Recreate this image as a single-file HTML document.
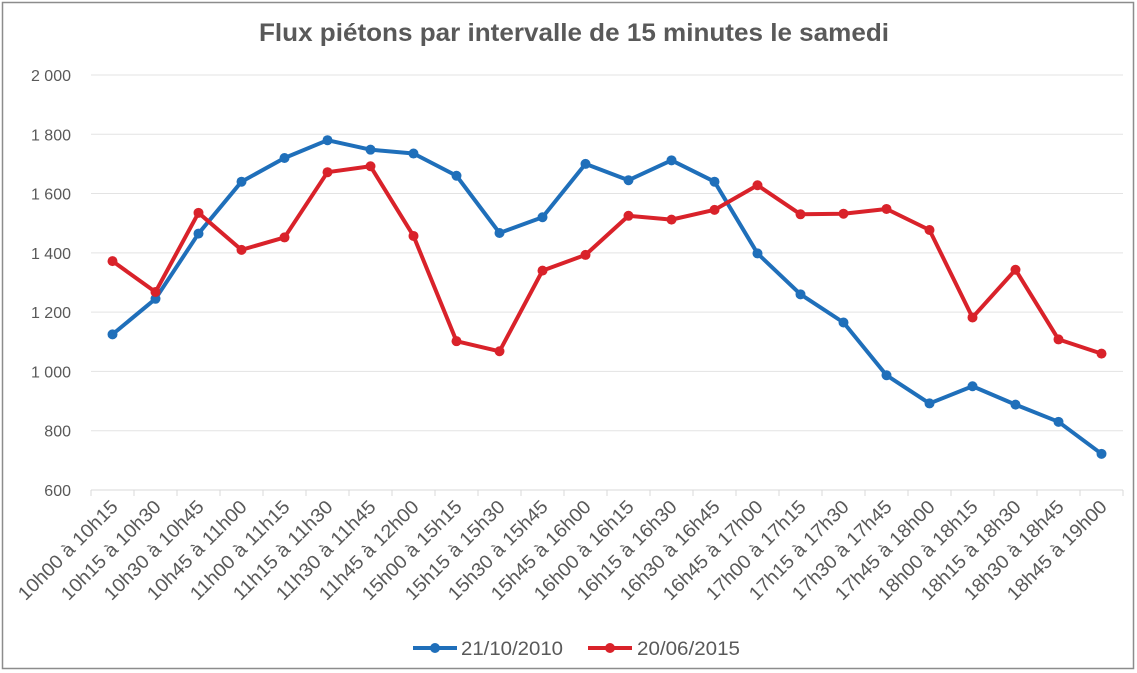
<!DOCTYPE html>
<html><head><meta charset="utf-8"><style>
html,body{margin:0;padding:0;background:#fff;}
svg{display:block;font-family:"Liberation Sans",sans-serif;}
</style></head><body>
<svg id="c" width="1137" height="673" xmlns="http://www.w3.org/2000/svg">
<rect x="2.5" y="2.5" width="1131" height="666" fill="#fff" stroke="#8c8c8c" stroke-width="1.5"/>
<text x="574" y="41" text-anchor="middle" font-size="25" font-weight="bold" fill="#595959" textLength="630" lengthAdjust="spacingAndGlyphs">Flux piétons par intervalle de 15 minutes le samedi</text>
<g id="g"></g>
<line x1="413" y1="648" x2="457" y2="648" stroke="#1f6fba" stroke-width="4"/><circle cx="435" cy="648" r="5" fill="#1f6fba"/>
<text x="461" y="655" font-size="19" fill="#595959" textLength="102" lengthAdjust="spacingAndGlyphs">21/10/2010</text>
<line x1="588" y1="648" x2="632" y2="648" stroke="#d9222a" stroke-width="4"/><circle cx="610" cy="648" r="5" fill="#d9222a"/>
<text x="637" y="655" font-size="19" fill="#595959" textLength="103" lengthAdjust="spacingAndGlyphs">20/06/2015</text>
</svg>
<script>
var g=document.getElementById('g'),s='';
function Y(v){return 490-(v-600)*0.29645;}
for(var v=800;v<=2000;v+=200){s+='<line x1="91" x2="1123" y1="'+Y(v)+'" y2="'+Y(v)+'" stroke="#e3e3e3" stroke-width="1"/>';}
s+='<line x1="91" x2="1123" y1="490" y2="490" stroke="#d9d9d9" stroke-width="1"/>';
for(var v=600;v<=2000;v+=200){var t=v>=1000?(Math.floor(v/1000)+' '+String(v%1000).padStart(3,'0')):String(v);s+='<text x="71" y="'+(Y(v)+6)+'" text-anchor="end" font-size="16" fill="#595959">'+t+'</text>';}
for(var i=0;i<=24;i++){var x=91+i*43;s+='<line x1="'+x+'" x2="'+x+'" y1="490" y2="496" stroke="#d9d9d9"/>';}
var times=['10h00','10h15','10h30','10h45','11h00','11h15','11h30','11h45','12h00'];
var labs=[];for(var i=0;i<8;i++)labs.push(times[i]+' à '+times[i+1]);
var t2=[];for(var h=15;h<=19;h++)for(var m=0;m<60;m+=15){t2.push(h+'h'+(m<10?'0'+m:m));}
for(var i=0;i<16;i++)labs.push(t2[i]+' à '+t2[i+1]);
labs.forEach(function(l,i){var x=119+i*43,y=508;s+='<text x="'+x+'" y="'+y+'" text-anchor="end" font-size="19" fill="#595959" textLength="132" lengthAdjust="spacingAndGlyphs" transform="rotate(-45 '+x+' '+y+')">'+l+'</text>';});
var A=[1125,1245,1465,1640,1720,1780,1748,1735,1660,1467,1520,1700,1645,1712,1640,1398,1260,1165,987,892,950,888,830,722];
var B=[1372,1268,1535,1410,1452,1672,1692,1457,1102,1068,1340,1393,1525,1512,1545,1628,1530,1532,1548,1477,1182,1343,1108,1060];
function ser(d,c){var p=d.map(function(v,i){return (112.5+43*i)+','+Y(v);}).join(' ');var o='<polyline points="'+p+'" fill="none" stroke="'+c+'" stroke-width="4" stroke-linejoin="round"/>';d.forEach(function(v,i){o+='<circle cx="'+(112.5+43*i)+'" cy="'+Y(v)+'" r="5" fill="'+c+'"/>';});return o;}
s+=ser(A,'#1f6fba')+ser(B,'#d9222a');
g.innerHTML=s;
</script>
</body></html>
